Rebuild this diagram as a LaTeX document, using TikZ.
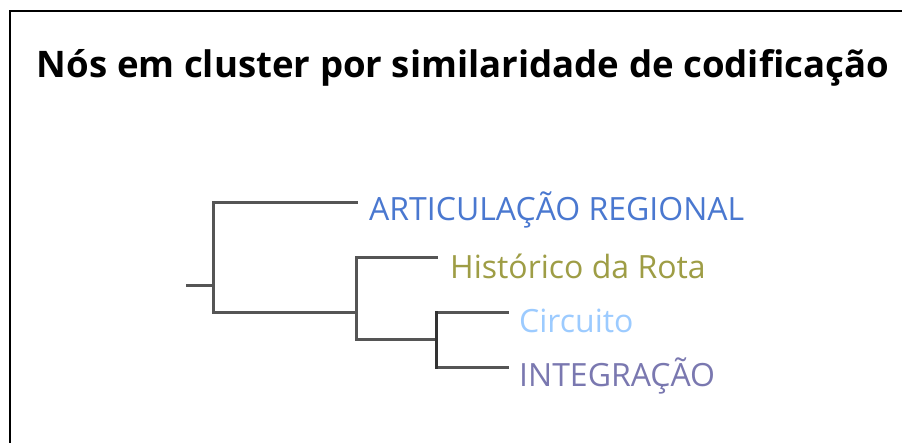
\documentclass[tikz,border=0pt]{standalone}
\usepackage{fontspec}
\setmainfont{Open Sans}
\definecolor{cA}{HTML}{4A78D0}
\definecolor{cH}{HTML}{9E9D45}
\definecolor{cC}{HTML}{9CCBFF}
\definecolor{cI}{HTML}{7A78B0}
\definecolor{tree}{HTML}{555555}
\begin{document}
\begin{tikzpicture}[x=1pt,y=-1pt,
  br/.style={draw=tree,line width=3pt,line cap=rect},
  lab/.style={anchor=west,inner sep=0pt,font=\fontsize{32}{36}\selectfont}]
\useasboundingbox (0,0) rectangle (902,443);
\fill[white] (0,0) rectangle (902,443);
\draw[line width=2.2pt,black] (10,443) -- (10,11) -- (902,11);
\node[font=\bfseries\fontsize{36.6}{40}\selectfont,anchor=center,inner sep=0pt] (title) at (463,68) {Nós em cluster por similaridade de codificação};
% coordinates
\coordinate (r0) at (187,286);
\coordinate (r) at (213,286);
\coordinate (rt) at (213,203);
\coordinate (rb) at (213,313);
\coordinate (a) at (356,203);
\coordinate (n1) at (356,313);
\coordinate (n1t) at (356,258);
\coordinate (n1b) at (356,340);
\coordinate (h) at (436,258);
\coordinate (n2) at (436,340);
\coordinate (n2t) at (436,313);
\coordinate (n2b) at (436,368);
\coordinate (c) at (507,313);
\coordinate (i) at (507,368);
\draw[br] (r0) -- (r);
\draw[br] (a) -- (rt) -- (rb) -- (n1);
\draw[br] (h) -- (n1t) -- (n1b) -- (n2);
\draw[br] (c) -- (n2t) -- (n2b) -- (i);
\draw[line width=3pt,black!80,line cap=rect] (n2t) -- (n2b);
\node[lab,text=cA] (la) at (369,210) {ARTICULAÇÃO REGIONAL};
\node[lab,text=cH] (lh) at (450,266) {Histórico da Rota};
\node[lab,text=cC] (lc) at (519,321) {Circuito};
\node[lab,text=cI] (li) at (519,376) {INTEGRAÇÃO};
\end{tikzpicture}
\end{document}
